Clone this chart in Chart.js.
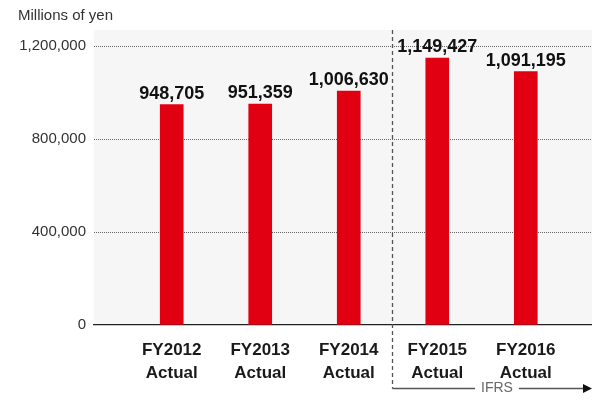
<!DOCTYPE html>
<html><head><meta charset="utf-8">
<script src="https://cdn.jsdelivr.net/npm/chart.js@4/dist/chart.umd.min.js"></script>
<style>html,body{margin:0;padding:0;background:#fff}#wrap{width:592px;height:400px}</style>
</head><body><div id="wrap"><canvas id="c" width="592" height="400"></canvas></div>
<script>
const categories = ['FY2012','FY2013','FY2014','FY2015','FY2016'];
const subLabels = ['Actual','Actual','Actual','Actual','Actual'];
const netSales = [948705, 951359, 1006630, 1149427, 1091195];
const yTicks = [0, 400000, 800000, 1200000];
const unitLabel = 'Millions of yen';
const ifrsLabel = 'IFRS';
const ifrsStartIndex = 3;

const FONT = '"Liberation Sans", Arial, Helvetica, sans-serif';
const fmt = v => v.toLocaleString('en-US');

const bgPlugin = {
  id: 'bg',
  beforeDraw(chart) {
    const {ctx, chartArea: a} = chart;
    ctx.save();
    ctx.fillStyle = '#f5f6f5';
    ctx.fillRect(a.left, a.top, a.right - a.left, a.bottom - a.top);
    ctx.restore();
  }
};

const annoPlugin = {
  id: 'anno',
  afterDraw(chart) {
    const {ctx, chartArea: a} = chart;
    const xs = chart.scales.x;
    ctx.save();
    ctx.fillStyle = '#333';
    ctx.font = '15px ' + FONT;
    ctx.textAlign = 'left';
    ctx.textBaseline = 'middle';
    ctx.fillText(unitLabel, 18, 16);
    const meta = chart.getDatasetMeta(0);
    ctx.fillStyle = '#111';
    ctx.font = 'bold 18px ' + FONT;
    ctx.textAlign = 'center';
    ctx.textBaseline = 'alphabetic';
    meta.data.forEach((bar, i) => {
      ctx.fillText(fmt(netSales[i]), bar.x, bar.y - 6);
    });
    const dx = Math.round(xs.getPixelForValue(ifrsStartIndex - 0.5)) - 0.5;
    const yb = 388.5;
    ctx.strokeStyle = '#555';
    ctx.lineWidth = 1.3;
    ctx.setLineDash([4, 3]);
    ctx.beginPath();
    ctx.moveTo(dx, a.top);
    ctx.lineTo(dx, yb);
    ctx.stroke();
    ctx.setLineDash([]);
    ctx.font = '14px ' + FONT;
    ctx.textBaseline = 'middle';
    ctx.textAlign = 'center';
    const tx = 497;
    const tw = ctx.measureText(ifrsLabel).width;
    ctx.fillStyle = '#666';
    ctx.fillText(ifrsLabel, tx, yb);
    ctx.beginPath();
    ctx.moveTo(dx, yb);
    ctx.lineTo(tx - tw / 2 - 6, yb);
    ctx.moveTo(tx + tw / 2 + 6, yb);
    ctx.lineTo(584, yb);
    ctx.stroke();
    ctx.fillStyle = '#111';
    ctx.beginPath();
    ctx.moveTo(583, yb - 4.5);
    ctx.lineTo(592, yb);
    ctx.lineTo(583, yb + 4.5);
    ctx.closePath();
    ctx.fill();
    ctx.restore();
  }
};

new Chart(document.getElementById('c'), {
  type: 'bar',
  data: {
    datasets: [{
      data: netSales.map((v, i) => ({x: i, y: v})),
      backgroundColor: '#e00012',
      barThickness: 23
    }]
  },
  options: {
    responsive: false,
    animation: false,
    devicePixelRatio: 1,
    layout: {padding: {top: 30, right: 0, left: 0, bottom: 0}},
    plugins: {legend: {display: false}, tooltip: {enabled: false}},
    scales: {
      x: {
        type: 'linear',
        offset: false,
        min: -0.878,
        max: 4.748,
        afterBuildTicks(scale) { scale.ticks = categories.map((c, i) => ({value: i})); },
        afterFit(scale) { scale.height = 75; },
        grid: {display: false, drawTicks: false, offset: false},
        border: {display: true, color: '#222', width: 1.3},
        ticks: {
          autoSkip: false, maxRotation: 0, padding: 14,
          color: '#1a1a1a',
          font: {family: FONT, size: 17, weight: 'bold', lineHeight: 1.35},
          callback: (v) => [categories[v], subLabels[v]]
        }
      },
      y: {
        min: 0,
        max: 1270000,
        afterBuildTicks(scale) { scale.ticks = yTicks.map(v => ({value: v})); },
        afterFit(scale) { scale.width = 94; },
        grid: {
          drawTicks: false,
          color: (c) => c.tick && c.tick.value === 0 ? 'rgba(0,0,0,0)' : '#666',
          lineWidth: 1
        },
        border: {display: false, dash: [1, 1]},
        ticks: {
          padding: 8,
          color: '#333',
          font: {family: FONT, size: 15},
          callback: (v) => fmt(v)
        }
      }
    }
  },
  plugins: [bgPlugin, annoPlugin]
});
</script></body></html>
